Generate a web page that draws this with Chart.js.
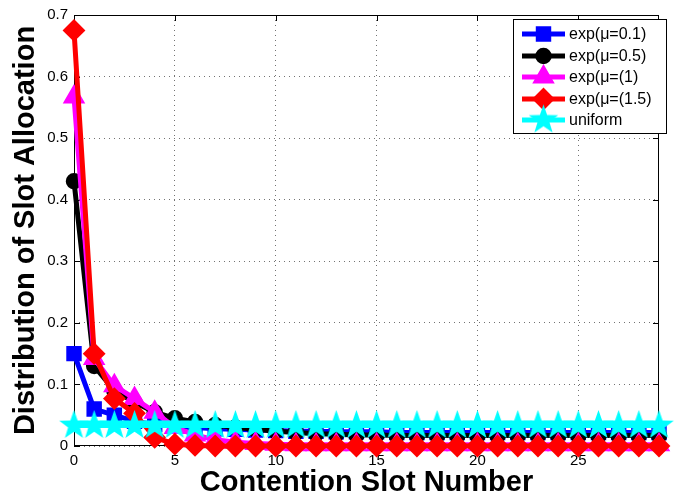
<!DOCTYPE html>
<html><head><meta charset="utf-8">
<script src="https://cdn.jsdelivr.net/npm/chart.js@4.4.0/dist/chart.umd.min.js"></script>
<style>html,body{margin:0;padding:0;background:#fff}#wrap{width:674px;height:498px;position:relative}</style>
</head><body><div id="wrap"><canvas id="c"></canvas></div>
<script>
// ---- data ----
const slots = [0,1,2,3,4,5,6,7,8,9,10,11,12,13,14,15,16,17,18,19,20,21,22,23,24,25,26,27,28,29];
const xTickValues = [0,5,10,15,20,25];
const yTickValues = [0,0.1,0.2,0.3,0.4,0.5,0.6,0.7];
const seriesNames = ['exp(\u03bc=0.1)','exp(\u03bc=0.5)','exp(\u03bc=(1)','exp(\u03bc=(1.5)','uniform'];
const expMu01 = [0.150,0.060,0.050,0.040,0.035,0.032,0.030,0.028,0.027,0.026,0.025,0.024,0.024,0.023,0.023,0.023,0.022,0.022,0.022,0.022,0.022,0.022,0.022,0.022,0.022,0.022,0.022,0.022,0.022,0.022];
const expMu05 = [0.430,0.130,0.090,0.071,0.055,0.045,0.039,0.034,0.030,0.027,0.024,0.022,0.020,0.019,0.018,0.018,0.017,0.017,0.017,0.017,0.017,0.017,0.017,0.017,0.017,0.017,0.017,0.017,0.017,0.017];
const expMu1  = [0.567,0.142,0.098,0.077,0.055,0.030,0.018,0.010,0.006,0.004,0.003,0.002,0.002,0.002,0.002,0.002,0.002,0.002,0.002,0.002,0.002,0.002,0.002,0.002,0.002,0.002,0.002,0.002,0.002,0.002];
const expMu15 = [0.675,0.150,0.077,0.053,0.014,0.003,0.001,0.000,0.000,0.000,0.000,0.000,0.000,0.000,0.000,0.000,0.000,0.000,0.000,0.000,0.000,0.000,0.000,0.000,0.000,0.000,0.000,0.000,0.000,0.000];
const uniform = [0.0333,0.0333,0.0333,0.0333,0.0333,0.0333,0.0333,0.0333,0.0333,0.0333,0.0333,0.0333,0.0333,0.0333,0.0333,0.0333,0.0333,0.0333,0.0333,0.0333,0.0333,0.0333,0.0333,0.0333,0.0333,0.0333,0.0333,0.0333,0.0333,0.0333];

const FONT = "'Liberation Sans', Arial, Helvetica, sans-serif";

function makeStar(R, r, color){
  const s = Math.ceil(2*R+2);
  const c = document.createElement('canvas'); c.width = s; c.height = s;
  const g = c.getContext('2d'); g.fillStyle = color; g.beginPath();
  for (let i=0;i<10;i++){ const a=-Math.PI/2+i*Math.PI/5; const rr=(i%2)?r:R; g.lineTo(s/2+rr*Math.cos(a), s/2+rr*Math.sin(a)); }
  g.closePath(); g.fill(); return c;
}
const starImg = makeStar(15.5, 6.2, '#00ffff');

function toXY(vals){ return slots.map((s,i)=>({x:s, y:vals[i]})); }
function ds(label, vals, color, style, radius, bw, order){
  return { label, data: toXY(vals), borderColor: color, backgroundColor: color, borderWidth: 5,
    pointStyle: style, pointRadius: radius, pointBorderWidth: bw, pointBackgroundColor: color, pointBorderColor: color,
    clip: false, order, tension: 0 };
}
const datasets = [
  ds(seriesNames[0], expMu01, '#0000ff', 'rect', 9.5, 2, 5),
  ds(seriesNames[1], expMu05, '#000000', 'circle', 7, 2.5, 4),
  ds(seriesNames[2], expMu1, '#ff00ff', 'triangle', 11, 2, 3),
  ds(seriesNames[3], expMu15, '#ff0000', 'rectRot', 10, 2, 2),
  ds(seriesNames[4], uniform, '#00ffff', starImg, 15, 0, 1)
];

const boxPlugin = {
  id: 'box',
  beforeDatasetsDraw(chart){
    const {ctx, chartArea:a, scales:{x, y}} = chart;
    ctx.save(); ctx.strokeStyle = '#000'; ctx.lineWidth = 1;
    ctx.strokeRect(Math.round(a.left)+0.5, Math.round(a.top)+0.5, Math.round(a.right-a.left)-1, Math.round(a.bottom-a.top)-1);
    ctx.beginPath();
    xTickValues.forEach(v=>{ const p=Math.round(x.getPixelForValue(v))+0.5; ctx.moveTo(p,a.bottom); ctx.lineTo(p,a.bottom-6); ctx.moveTo(p,a.top); ctx.lineTo(p,a.top+6); });
    yTickValues.forEach(v=>{ const p=Math.round(y.getPixelForValue(v))+0.5; ctx.moveTo(a.left,p); ctx.lineTo(a.left+6,p); ctx.moveTo(a.right,p); ctx.lineTo(a.right-6,p); });
    ctx.stroke(); ctx.restore();
  }
};

function drawMarker(ctx, d, x, y){
  if (d.pointStyle instanceof HTMLCanvasElement){ ctx.drawImage(d.pointStyle, x-d.pointStyle.width/2, y-d.pointStyle.height/2); return; }
  ctx.save(); ctx.fillStyle = d.pointBackgroundColor; ctx.strokeStyle = d.pointBorderColor; ctx.lineWidth = d.pointBorderWidth;
  Chart.helpers.drawPoint(ctx, {pointStyle: d.pointStyle, radius: d.pointRadius, borderWidth: d.pointBorderWidth, rotation: 0}, x, y);
  ctx.restore();
}

const legendPlugin = {
  id: 'mlegend',
  afterDraw(chart){
    const ctx = chart.ctx;
    const L = 513, T = 19, R = 666, B = 133;
    ctx.save();
    ctx.fillStyle = '#fff'; ctx.fillRect(L, T, R-L, B-T);
    ctx.strokeStyle = '#000'; ctx.lineWidth = 1; ctx.strokeRect(L+0.5, T+0.5, R-L, B-T);
    const rows = [34, 56, 77, 99, 120];
    chart.data.datasets.forEach((d, i)=>{
      const yy = rows[i];
      ctx.strokeStyle = d.borderColor; ctx.lineWidth = d.borderWidth;
      ctx.beginPath(); ctx.moveTo(522, yy); ctx.lineTo(565, yy); ctx.stroke();
      drawMarker(ctx, d, 543.5, yy);
      ctx.fillStyle = '#000'; ctx.font = '16px ' + FONT; ctx.textBaseline = 'middle'; ctx.textAlign = 'left';
      ctx.fillText(d.label, 569, yy+1);
    });
    ctx.restore();
  }
};

new Chart(document.getElementById('c'), {
  type: 'line',
  data: { datasets },
  plugins: [boxPlugin, legendPlugin],
  options: {
    responsive: true, maintainAspectRatio: false, animation: false, events: [],
    layout: { padding: { top: 12, right: 4, left: 0, bottom: 0 } },
    plugins: { legend: { display: false }, tooltip: { enabled: false } },
    scales: {
      x: {
        type: 'linear', min: 0, max: 29,
        afterBuildTicks: s => { s.ticks = xTickValues.map(v=>({value:v})); },
        afterFit: s => { s.height = 52; },
        ticks: { font: { family: FONT, size: 15 }, color: '#000', padding: 6, maxRotation: 0, callback: v => String(v) },
        grid: { color: 'rgba(0,0,0,0.55)', lineWidth: 1, drawTicks: false },
        border: { display: false, dash: [1, 4] },
        title: { display: true, text: 'Contention Slot Number', color: '#000', font: { family: FONT, size: 29, weight: 'bold', lineHeight: 1 }, padding: { top: 0, bottom: 1 } }
      },
      y: {
        type: 'linear', min: 0, max: 0.7,
        afterBuildTicks: s => { s.ticks = yTickValues.map(v=>({value:v})); },
        afterFit: s => { s.width = 74; },
        ticks: { font: { family: FONT, size: 15 }, color: '#000', padding: 6, callback: v => String(v) },
        grid: { color: 'rgba(0,0,0,0.55)', lineWidth: 1, drawTicks: false },
        border: { display: false, dash: [1, 4] },
        title: { display: true, text: 'Distribution of Slot Allocation', color: '#000', font: { family: FONT, size: 29, weight: 'bold', lineHeight: 1 }, padding: { top: 11, bottom: 0 } }
      }
    }
  }
});
</script></body></html>
